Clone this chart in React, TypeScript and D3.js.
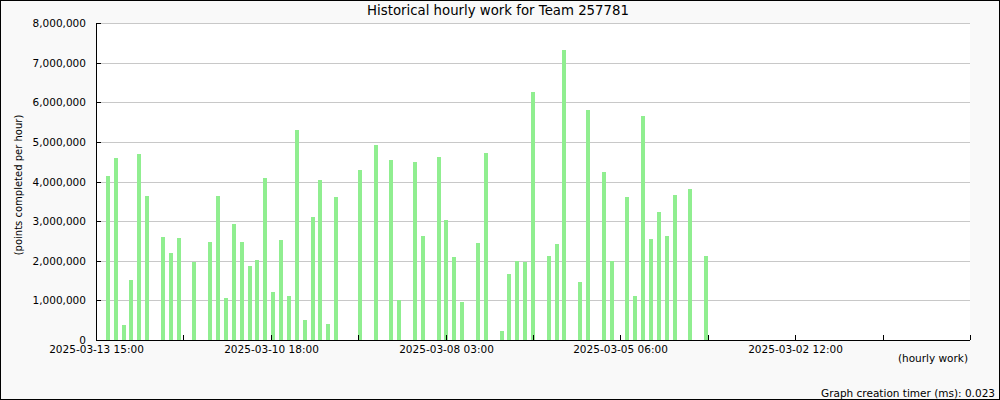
import { useEffect, useRef } from 'react'
import * as d3 from 'd3'

// hourly points, newest first (one bar per slot, zero = no work that hour)
const hourlyPoints = [
  0, 4150000, 4590000, 380000, 1510000, 4690000, 3630000, 0, 2600000, 2200000,
  2570000, 0, 1970000, 0, 2470000, 3630000, 1060000, 2930000, 2470000, 1870000,
  2020000, 4090000, 1210000, 2520000, 1110000, 5300000, 500000, 3100000, 4040000, 400000,
  3610000, 0, 0, 4290000, 0, 4920000, 0, 4540000, 1010000, 0,
  4490000, 2620000, 0, 4620000, 3030000, 2090000, 960000, 0, 2450000, 4720000,
  0, 230000, 1670000, 1990000, 1980000, 6260000, 0, 2120000, 2420000, 7320000,
  0, 1460000, 5800000, 0, 4240000, 1990000, 0, 3610000, 1110000, 5650000,
  2550000, 3230000, 2620000, 3660000, 0, 3810000, 0, 2120000,
]
const slotCount = 111

const yTicks = [0, 1000000, 2000000, 3000000, 4000000, 5000000, 6000000, 7000000, 8000000]
const xTickLabels = [
  '2025-03-13 15:00', '', '2025-03-10 18:00', '', '2025-03-08 03:00', '',
  '2025-03-05 06:00', '', '2025-03-02 12:00', '', '',
]

const W = 1000
const H = 400

export default function App() {
  const ref = useRef<SVGSVGElement | null>(null)

  useEffect(() => {
    const svg = d3.select(ref.current)
    svg.selectAll('*').remove()

    const margin = { top: 23, right: 30, bottom: 60, left: 96 }
    const x0 = margin.left
    const x1 = W - margin.right
    const y0 = H - margin.bottom
    const y1 = margin.top
    const font = 'DejaVu Sans, sans-serif'

    // background + frame
    svg.append('rect').attr('x', 0.5).attr('y', 0.5).attr('width', W - 1).attr('height', H - 1)
      .attr('fill', '#f9f9f9').attr('stroke', '#000')
    svg.append('rect').attr('x', x0).attr('y', y1).attr('width', x1 - x0).attr('height', y0 - y1)
      .attr('fill', '#fff')

    const xScale = d3.scaleLinear().domain([0, slotCount]).range([x0, x1])
    const tickScale = d3.scaleLinear().domain([0, xTickLabels.length - 1]).range([x0, x1])
    const yScale = d3.scaleLinear().domain([0, 8000000]).range([y0, y1])

    // grid
    svg.append('g').selectAll('line').data(yTicks.filter((d) => d > 0)).enter().append('line')
      .attr('x1', x0).attr('x2', x1)
      .attr('y1', (d) => Math.round(yScale(d)) + 0.5).attr('y2', (d) => Math.round(yScale(d)) + 0.5)
      .attr('stroke', '#c8c8c8')

    // bars
    const barW = 4
    svg.append('g').selectAll('rect').data(hourlyPoints).enter().append('rect')
      .attr('x', (d, i) => Math.round(xScale(i + 0.5) - barW / 2))
      .attr('y', (d) => Math.round(yScale(d)))
      .attr('width', barW)
      .attr('height', (d) => Math.round(y0) - Math.round(yScale(d)))
      .attr('fill', '#90ee90')

    // axes
    svg.append('line').attr('x1', x0 + 0.5).attr('x2', x0 + 0.5).attr('y1', y1).attr('y2', y0 + 0.5)
      .attr('stroke', '#000')
    svg.append('line').attr('x1', x0).attr('x2', x1).attr('y1', y0 + 0.5).attr('y2', y0 + 0.5)
      .attr('stroke', '#000')

    // y ticks (inward)
    const yt = svg.append('g')
    yTicks.forEach((v) => {
      const yy = Math.round(yScale(v)) + 0.5
      yt.append('line').attr('x1', x0).attr('x2', x0 + 5).attr('y1', yy).attr('y2', yy).attr('stroke', '#000')
      yt.append('text').attr('x', x0 - 10).attr('y', yy).attr('dy', '0.35em')
        .attr('text-anchor', 'end').attr('font-family', font).attr('font-size', 10.5)
        .text(d3.format(',')(v))
    })

    // x ticks (inward) + labels
    const xt = svg.append('g')
    xTickLabels.forEach((lbl, i) => {
      const xx = Math.round(tickScale(i)) + 0.5
      xt.append('line').attr('x1', xx).attr('x2', xx).attr('y1', y0).attr('y2', y0 - 5).attr('stroke', '#000')
      if (lbl) {
        xt.append('text').attr('x', xx).attr('y', y0 + 13)
          .attr('text-anchor', 'middle').attr('font-family', font).attr('font-size', 10.5)
          .text(lbl)
      }
    })

    // titles
    svg.append('text').attr('x', W / 2 - 2).attr('y', 15).attr('text-anchor', 'middle')
      .attr('font-family', font).attr('font-size', 13.3).text('Historical hourly work for Team 257781')
    svg.append('text').attr('transform', `translate(22,185) rotate(-90)`)
      .attr('text-anchor', 'middle').attr('font-family', font).attr('font-size', 10)
      .text('(points completed per hour)')
    svg.append('text').attr('x', 968).attr('y', 362).attr('text-anchor', 'end')
      .attr('font-family', font).attr('font-size', 10.5).text('(hourly work)')
    svg.append('text').attr('x', 995).attr('y', 397).attr('text-anchor', 'end')
      .attr('font-family', font).attr('font-size', 10.5).text('Graph creation timer (ms): 0.023')
  }, [])

  return (
    <svg ref={ref} width={W} height={H}
      style={{ position: 'absolute', left: 0, top: 0, display: 'block' }} />
  )
}
